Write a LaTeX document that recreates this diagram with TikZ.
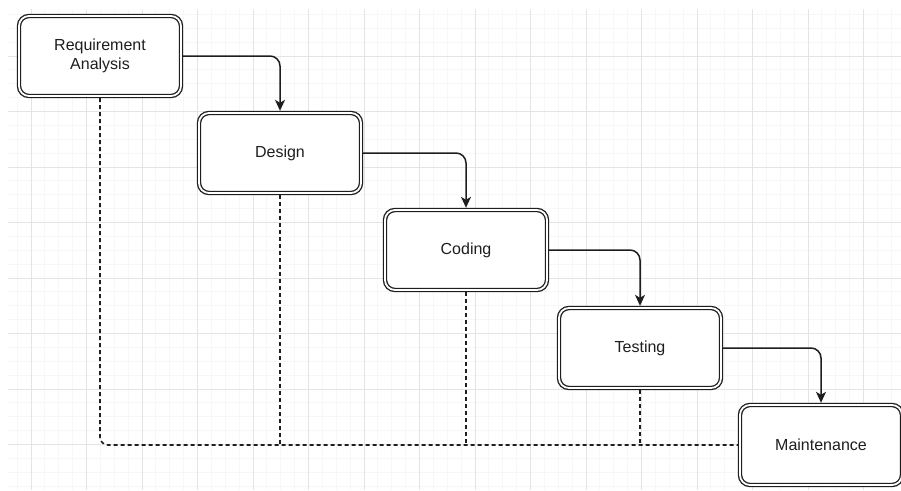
\documentclass[tikz,border=0pt]{standalone}
\usepackage{fontspec}
\setmainfont{Liberation Sans}
\usetikzlibrary{arrows.meta}
\definecolor{gridmajor}{RGB}{228,228,228}
\definecolor{gridminor}{RGB}{247,247,247}
\definecolor{ink}{RGB}{30,30,30}
\tikzset{
  minorgrid/.style={draw=gridminor, line width=0.8pt},
  majorgrid/.style={draw=gridmajor, line width=1pt},
  phase/.style={draw=ink, double=white, double distance=1.8pt, line width=1.3pt,
    rounded corners=10pt, fill=white, minimum width=162pt, minimum height=80pt,
    outer sep=2.2pt, inner sep=0pt, align=center, text=ink,
    font=\fontsize{16}{19}\selectfont},
  flow/.style={draw=ink, line width=1.5pt, rounded corners=10pt,
    -{Stealth[length=11pt, width=10pt, inset=3pt]}},
  feedback/.style={draw=ink, line width=1.6pt, dash pattern=on 4pt off 3pt,
    rounded corners=8pt}
}
\begin{document}
\begin{tikzpicture}[x=1pt, y=-1pt]
  \useasboundingbox (0,0) rectangle (901,490);
  \fill[white] (0,0) rectangle (901,490);
  % background grid
  \begin{scope}
    \clip (8,9) rectangle (901,490);
    \foreach \k in {-2,...,64} {
      \pgfmathsetmacro\gx{31+13.875*\k}
      \draw[minorgrid] (\gx,0) -- (\gx,490);
    }
    \foreach \k in {0,...,36} {
      \pgfmathsetmacro\gy{0.5+13.875*\k}
      \draw[minorgrid] (0,\gy) -- (901,\gy);
    }
    \foreach \k in {0,...,16} {
      \pgfmathsetmacro\gx{31+55.5*\k}
      \draw[majorgrid] (\gx,0) -- (\gx,490);
    }
    \foreach \k in {1,...,9} {
      \pgfmathsetmacro\gy{0.5+55.5*\k}
      \draw[majorgrid] (0,\gy) -- (901,\gy);
    }
  \end{scope}

  % phases
  \node[phase] (req)  at (100,56)  {Requirement\\Analysis};
  \node[phase] (des)  at (280,153) {Design};
  \node[phase] (cod)  at (466,250) {Coding};
  \node[phase] (tst)  at (640,348) {Testing};
  \node[phase] (mnt)  at (821,445) {Maintenance};

  % feedback lines into maintenance
  \draw[feedback] (req.south) |- (mnt.west);
  \draw[feedback] (des.south) -- (des.south |- mnt.west);
  \draw[feedback] (cod.south) -- (cod.south |- mnt.west);
  \draw[feedback] (tst.south) -- (tst.south |- mnt.west);

  % forward flow
  \draw[flow] (req.east) -| (des.north);
  \draw[flow] (des.east) -| (cod.north);
  \draw[flow] (cod.east) -| (tst.north);
  \draw[flow] (tst.east) -| (mnt.north);
\end{tikzpicture}
\end{document}
